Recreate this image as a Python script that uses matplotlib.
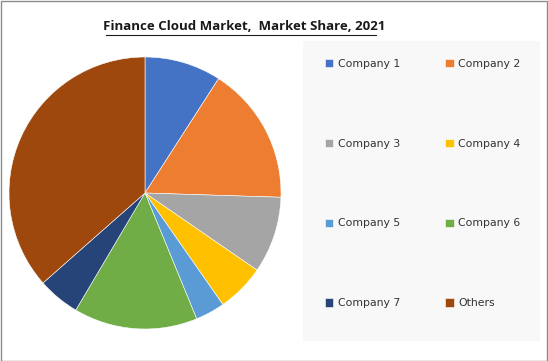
import matplotlib.pyplot as plt
from matplotlib.patches import Rectangle

# market share, 2021
labels = ["Company 1", "Company 2", "Company 3", "Company 4",
          "Company 5", "Company 6", "Company 7", "Others"]
shares = [9.1, 16.4, 9.1, 5.7, 3.5, 14.7, 5.0, 36.5]
colors = ["#4472C4", "#ED7D31", "#A5A5A5", "#FFC000",
          "#5B9BD5", "#70AD47", "#264478", "#9E480E"]

W, H = 548, 361
fig = plt.figure(figsize=(W / 100, H / 100), dpi=100)
fig.patch.set_facecolor("white")

# light panel behind the legend and outer border
fig.add_artist(Rectangle((303 / W, 20 / H), 237 / W, 300 / H,
                         transform=fig.transFigure, facecolor="#F8F8F8",
                         edgecolor="none", zorder=0))
fig.add_artist(Rectangle((0.5 / W, 0.5 / H), 1 - 1.5 / W, 1 - 1.5 / H,
                         transform=fig.transFigure, facecolor="none",
                         edgecolor="#8C8C8C", linewidth=1, zorder=5))

cx, cy, r = 145, 193, 136
ax = fig.add_axes([(cx - r) / W, (H - cy - r) / H, 2 * r / W, 2 * r / H])
wedges, _ = ax.pie(shares, colors=colors, startangle=90, counterclock=False,
                   radius=1, frame=False,
                   wedgeprops=dict(linewidth=0.4, edgecolor="white"))
ax.set_xlim(-1, 1)
ax.set_ylim(-1, 1)
ax.set_aspect("equal")
ax.axis("off")

fig.text(244 / W, 1 - 27 / H, "Finance Cloud Market,  Market Share, 2021",
         ha="center", va="center", fontsize=9.5, fontweight="bold",
         family="Open Sans", color="#1a1a1a")
fig.add_artist(plt.Line2D([106 / W, 376 / W], [1 - 35 / H, 1 - 35 / H],
                          transform=fig.transFigure, color="#1a1a1a",
                          linewidth=0.8))

# legend is filled column by column, so reorder to read row by row
order = [0, 2, 4, 6, 1, 3, 5, 7]
leg = fig.legend([wedges[i] for i in order], [labels[i] for i in order],
                 ncol=2, loc="upper left",
                 bbox_to_anchor=(315 / W, 1 - 49 / H), frameon=False,
                 prop=dict(family="DejaVu Sans", size=7.8),
                 handlelength=0.8, handleheight=0.8, handletextpad=0.4,
                 labelspacing=6.45, columnspacing=4.15)
for t in leg.get_texts():
    t.set_color("#333333")

fig.savefig("out.png", dpi=100)
